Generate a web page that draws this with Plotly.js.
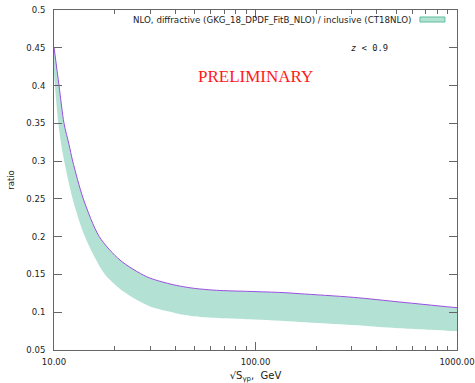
<!DOCTYPE html>
<html>
<head>
<meta charset="utf-8">
<script src="https://cdn.plot.ly/plotly-3.0.1.min.js"></script>
<style>html,body{margin:0;padding:0;background:#fff;}#chart{width:475px;height:383px;}</style>
</head>
<body>
<div id="chart"></div>
<script>
// Data
const upperX = [10, 10.59, 11.21, 11.87, 12.38, 13.98, 16.78, 21.26, 28.84, 37.65, 43.8, 50, 64, 94, 137, 166, 306, 521, 889, 1000];
const upperY = [0.451, 0.40, 0.35, 0.322, 0.30, 0.25, 0.20, 0.169, 0.147, 0.1374, 0.1338, 0.1315, 0.129, 0.1275, 0.126, 0.1245, 0.1197, 0.1135, 0.1073, 0.106];
const lowerX = [10, 10.5, 11.05, 12.38, 14.25, 17.91, 22.51, 29.95, 37.65, 43.8, 53, 70, 94, 166, 306, 521, 889, 1000];
const lowerY = [0.415, 0.35, 0.31, 0.25, 0.20, 0.15, 0.126, 0.1075, 0.1005, 0.0965, 0.0938, 0.092, 0.0906, 0.0871, 0.0831, 0.0787, 0.0756, 0.075];

const xTickVals = [10, 100, 1000];
const xTickText = ['10.00', '100.00', '1000.00'];
const xMinorVals = [20, 30, 40, 50, 60, 70, 80, 90, 200, 300, 400, 500, 600, 700, 800, 900];
const yTickVals = [0.05, 0.1, 0.15, 0.2, 0.25, 0.3, 0.35, 0.4, 0.45, 0.5];
const yTickText = ['0.05', '0.1', '0.15', '0.2', '0.25', '0.3', '0.35', '0.4', '0.45', '0.5'];

const legendText = 'NLO, diffractive (GKG_18_DPDF_FitB_NLO) / inclusive (CT18NLO)';
const bandFill = '#b3e2d5';
const lineColor = '#9b4fe0';
const axisColor = '#666666';
const font = 'DejaVu Sans, sans-serif';

const traces = [
  {x: lowerX, y: lowerY, type: 'scatter', mode: 'lines', line: {width: 0, shape: 'spline', smoothing: 0.8, color: bandFill}, showlegend: false, hoverinfo: 'skip'},
  {x: upperX, y: upperY, type: 'scatter', mode: 'lines', fill: 'tonexty', fillcolor: bandFill, line: {width: 1, shape: 'spline', smoothing: 0.8, color: lineColor}, showlegend: false}
];

const layout = {
  width: 475, height: 383,
  margin: {l: 54, r: 18, t: 10, b: 33, pad: 0},
  paper_bgcolor: '#ffffff', plot_bgcolor: '#ffffff',
  font: {family: font, size: 8.5, color: '#222'},
  showlegend: false,
  xaxis: {
    type: 'log', range: [1, 3], showgrid: false, zeroline: false,
    showline: true, linecolor: axisColor, linewidth: 1, mirror: 'allticks',
    ticks: 'inside', ticklen: 8, tickcolor: axisColor, tickwidth: 1,
    tickmode: 'array', tickvals: xTickVals, ticktext: xTickText,
    ticklabelstandoff: 4,
    minor: {ticks: 'inside', ticklen: 4, tickcolor: axisColor, tickmode: 'array', tickvals: xMinorVals, showgrid: false},
    title: {text: '√S<sub>γp</sub>,  GeV', font: {family: font, size: 10, color: '#222'}, standoff: 6}
  },
  yaxis: {
    range: [0.05, 0.5], showgrid: false, zeroline: false,
    showline: true, linecolor: axisColor, linewidth: 1, mirror: 'allticks',
    ticks: 'inside', ticklen: 8, tickcolor: axisColor, tickwidth: 1,
    tickmode: 'array', tickvals: yTickVals, ticktext: yTickText,
    ticklabelstandoff: 6,
    title: {text: 'ratio', font: {family: font, size: 8.5, color: '#222'}, standoff: 10}
  },
  shapes: [
    {type: 'rect', xref: 'paper', yref: 'paper', x0: 0.908, x1: 0.970, y0: 0.9647, y1: 0.9794, fillcolor: bandFill, line: {color: '#5fbf9c', width: 1}}
  ],
  annotations: [
    {text: legendText, xref: 'paper', yref: 'paper', x: 0.891, y: 0.9706, xanchor: 'right', yanchor: 'middle', showarrow: false, font: {family: font, size: 8.7, color: '#222'}},
    {text: '<i>z</i> < 0.9', xref: 'paper', yref: 'paper', x: 0.784, y: 0.888, xanchor: 'center', yanchor: 'middle', showarrow: false, font: {family: 'DejaVu Sans Mono, monospace', size: 8.8, color: '#222'}},
    {text: 'PRELIMINARY', xref: 'paper', yref: 'paper', x: 0.5, y: 0.803, xanchor: 'center', yanchor: 'middle', showarrow: false, font: {family: 'Liberation Serif, Times New Roman, serif', size: 17, color: '#ff1a1a'}}
  ]
};

Plotly.newPlot('chart', traces, layout, {staticPlot: true, displayModeBar: false});
</script>
</body>
</html>
